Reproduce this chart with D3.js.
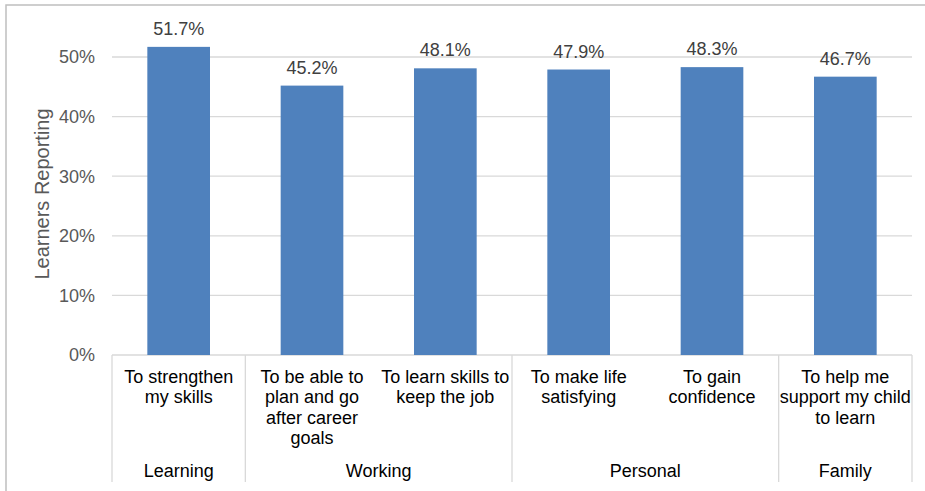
<!DOCTYPE html>
<html>
<head>
<meta charset="utf-8">
<script src="https://cdn.jsdelivr.net/npm/d3@7"></script>
<style>
  body { margin: 0; background: #fff; }
  svg { display: block; font-family: "Liberation Sans", Arial, sans-serif; }
</style>
</head>
<body>
<svg id="chart"></svg>
<script>
const categories = [
  "To strengthen my skills",
  "To be able to plan and go after career goals",
  "To learn skills to keep the job",
  "To make life satisfying",
  "To gain confidence",
  "To help me support my child to learn"
];
const categoryLines = [
  ["To strengthen", "my skills"],
  ["To be able to", "plan and go", "after career", "goals"],
  ["To learn skills to", "keep the job"],
  ["To make life", "satisfying"],
  ["To gain", "confidence"],
  ["To help me", "support my child", "to learn"]
];
const groups = ["Learning", "Working", "Working", "Personal", "Personal", "Family"];
const values = [51.7, 45.2, 48.1, 47.9, 48.3, 46.7];
const yTicks = [0, 10, 20, 30, 40, 50];

const width = 925;
const height = 491;
const margin = { top: 57, right: 13, bottom: 136, left: 112 };

const svg = d3.select("#chart").attr("width", width).attr("height", height);

// outer frame
svg.append("rect")
  .attr("x", 6).attr("y", 5)
  .attr("width", width + 10).attr("height", height + 10)
  .attr("fill", "none").attr("stroke", "#bfbfbf").attr("stroke-width", 1.5);

const x = d3.scaleBand()
  .domain(categories)
  .range([margin.left, width - margin.right])
  .paddingInner(0.53)
  .paddingOuter(0.265);

const y = d3.scaleLinear()
  .domain([0, 50])
  .range([height - margin.bottom, margin.top]);

const x0 = margin.left, x1 = width - margin.right;
const step = (x1 - x0) / categories.length;

// gridlines
svg.append("g")
  .selectAll("line")
  .data(yTicks)
  .join("line")
  .attr("x1", x0).attr("x2", x1)
  .attr("y1", d => y(d)).attr("y2", d => y(d))
  .attr("stroke", "#d9d9d9").attr("stroke-width", 1.3);

// y tick labels
svg.append("g")
  .selectAll("text")
  .data(yTicks)
  .join("text")
  .attr("x", 95)
  .attr("y", d => y(d))
  .attr("dy", "0.35em")
  .attr("text-anchor", "end")
  .attr("font-size", 18)
  .attr("fill", "#595959")
  .text(d => d + "%");

// y axis title
svg.append("text")
  .attr("transform", `translate(49,194) rotate(-90)`)
  .attr("text-anchor", "middle")
  .attr("font-size", 20)
  .attr("fill", "#595959")
  .text("Learners Reporting");

// bars
svg.append("g")
  .selectAll("rect")
  .data(values)
  .join("rect")
  .attr("x", (_, i) => x(categories[i]))
  .attr("y", d => y(d))
  .attr("width", x.bandwidth())
  .attr("height", d => y(0) - y(d))
  .attr("fill", "#4f81bd");

// value labels
svg.append("g")
  .selectAll("text")
  .data(values)
  .join("text")
  .attr("x", (_, i) => x(categories[i]) + x.bandwidth() / 2)
  .attr("y", d => y(d) - 12)
  .attr("text-anchor", "middle")
  .attr("font-size", 18)
  .attr("fill", "#404040")
  .text(d => d.toFixed(1) + "%");

// category labels
const labels = svg.append("g")
  .selectAll("text")
  .data(categoryLines)
  .join("text")
  .attr("text-anchor", "middle")
  .attr("font-size", 18)
  .attr("fill", "#000");
labels.each(function (lines, i) {
  const cx = x(categories[i]) + x.bandwidth() / 2;
  d3.select(this).selectAll("tspan")
    .data(lines)
    .join("tspan")
    .attr("x", cx)
    .attr("y", (_, j) => 383 + j * 20.3)
    .text(d => d);
});

// group labels and separators
const groupSpans = [];
groups.forEach((g, i) => {
  const last = groupSpans[groupSpans.length - 1];
  if (last && last.name === g) last.end = i;
  else groupSpans.push({ name: g, start: i, end: i });
});

svg.append("g")
  .selectAll("text")
  .data(groupSpans)
  .join("text")
  .attr("x", d => x0 + step * (d.start + d.end + 1) / 2)
  .attr("y", 477)
  .attr("text-anchor", "middle")
  .attr("font-size", 18)
  .attr("fill", "#000")
  .text(d => d.name);

const sepPositions = [0].concat(groupSpans.map(d => d.end + 1));
svg.append("g")
  .selectAll("line")
  .data(sepPositions)
  .join("line")
  .attr("x1", d => x0 + step * d).attr("x2", d => x0 + step * d)
  .attr("y1", y(0)).attr("y2", 482)
  .attr("stroke", "#d9d9d9").attr("stroke-width", 1.3);
</script>
</body>
</html>
